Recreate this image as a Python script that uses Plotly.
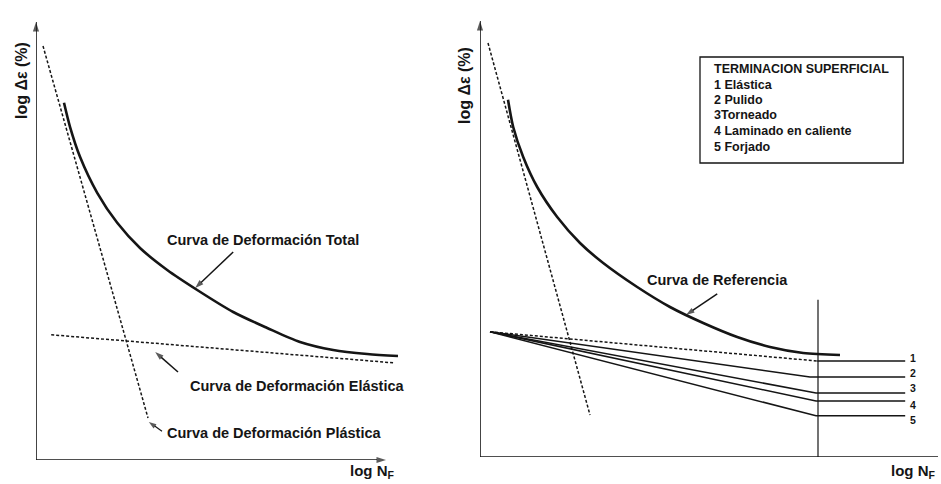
import plotly.graph_objects as go

# ---------------- data (schematic units: log N_f, log delta-eps) ----------------
# Left panel
plastic_L_x = [0.175, 2.8]
plastic_L_y = [10.35, 1.05]
total_L_x = [0.70, 0.85, 1.10, 1.53, 2.03, 2.60, 3.28, 4.03, 4.93, 5.78, 6.60, 7.43, 8.28, 9.05]
total_L_y = [8.93, 8.33, 7.58, 6.68, 5.93, 5.30, 4.75, 4.25, 3.70, 3.30, 2.95, 2.75, 2.65, 2.60]
elastic_L_x = [0.38, 8.93]
elastic_L_y = [3.13, 2.43]

# Right panel
plastic_R_x = [0.2, 2.75]
plastic_R_y = [10.35, 1.05]
ref_R_x = [0.70, 0.83, 1.08, 1.43, 1.93, 2.50, 3.08, 3.93, 4.75, 5.58, 6.43, 7.25, 8.08, 9.0]
ref_R_y = [8.93, 8.25, 7.50, 6.75, 6.00, 5.35, 4.85, 4.25, 3.75, 3.35, 3.00, 2.75, 2.60, 2.55]
start_x, start_y = 0.25, 3.13
knee_x = [8.43, 8.25, 8.4, 8.4, 8.4]
end_x = 10.63
finish_y = [2.40, 2.00, 1.60, 1.40, 1.03]
finish_labels = ["1", "2", "3", "4", "5"]
label_y = [2.48, 2.10, 1.73, 1.30, 0.93]
vline_x = 8.45
vline_top = 3.93

legend_title = "TERMINACION SUPERFICIAL"
legend_items = ["1 Elástica", "2 Pulido", "3Torneado", "4 Laminado en caliente", "5 Forjado"]

INK = "#151515"
FONT = "Liberation Sans, Arial, sans-serif"

fig = go.Figure()
L = ("x", "y")
R = ("x2", "y2")


def line(x, y, ax, width=1.5, dash="solid", smooth=False):
    fig.add_trace(go.Scatter(
        x=x, y=y, mode="lines", xaxis=ax[0], yaxis=ax[1],
        line=dict(color=INK, width=width, dash=dash,
                  shape="spline" if smooth else "linear", smoothing=0.8),
        hoverinfo="skip", showlegend=False, cliponaxis=False))


def arrow(x0, y0, x1, y1, ax, width=1.5, head=9):
    fig.add_trace(go.Scatter(
        x=[x0, x1], y=[y0, y1], mode="lines+markers", xaxis=ax[0], yaxis=ax[1],
        line=dict(color=INK, width=width),
        marker=dict(symbol="arrow", size=[0, head], angleref="previous", color=INK,
                    line=dict(width=0)),
        hoverinfo="skip", showlegend=False, cliponaxis=False))


# axes with arrow heads
arrow(0, 0, 0, 10.95, L, 1.6, 10)
arrow(0, 0, 8.75, 0, L, 1.6, 10)
arrow(0, 0, 0, 10.9, R, 1.6, 10)
line([0, 11.45], [0, 0], R, 1.6)

# left panel curves
line(plastic_L_x, plastic_L_y, L, 1.5, "3px,2px")
line(elastic_L_x, elastic_L_y, L, 1.5, "3px,2px")
line(total_L_x, total_L_y, L, 2.6, smooth=True)

# right panel curves
line(plastic_R_x, plastic_R_y, R, 1.5, "3px,2px")
line(ref_R_x, ref_R_y, R, 2.6, smooth=True)
line([start_x, knee_x[0]], [start_y, finish_y[0]], R, 1.5, "3px,2px")
line([knee_x[0], end_x], [finish_y[0], finish_y[0]], R, 1.6)
for i in range(1, 5):
    line([start_x, knee_x[i], end_x], [start_y, finish_y[i], finish_y[i]], R, 1.5)
line([vline_x, vline_x], [0, vline_top], R, 1.2)

# legend box
fig.add_shape(type="rect", xref="x2", yref="y2", x0=5.5, x1=10.58, y0=7.35, y1=10.0,
              line=dict(color=INK, width=1.3), fillcolor="white", layer="below")

ann = []


def text(t, x, y, xr, yr, size=14.5, anchor="center", bold=True):
    ann.append(dict(text=f"<b>{t}</b>" if bold else t, x=x, y=y, xref=xr, yref=yr, showarrow=False,
                    xanchor=anchor, yanchor="middle", font=dict(family=FONT, size=size, color=INK)))


# left annotations
text("Curva de Deformación Total", 5.68, 5.5, "x", "y")
arrow(4.93, 5.2, 3.98, 4.3, L)
text("Curva de Deformación Elástica", 6.53, 1.85, "x", "y")
arrow(3.55, 2.2, 2.98, 2.7, L)
text("Curva de Deformación Plástica", 3.22, 0.68, "x", "y", anchor="left")
arrow(3.15, 0.72, 2.82, 0.95, L, 1.2, 8)

# right annotations
text("Curva de Referencia", 5.93, 4.43, "x2", "y2")
arrow(5.93, 4.08, 5.15, 3.55, R)
for lab, yy in zip(finish_labels, label_y):
    text(lab, 10.83, yy, "x2", "y2", size=10.5)

legend_y = [9.3, 8.93, 8.55, 8.15, 7.75]
text(legend_title, 5.8, 9.7, "x2", "y2", size=12.5, anchor="left")
for t, yy in zip(legend_items, legend_y):
    text(t, 5.8, yy, "x2", "y2", size=12.5, anchor="left")

# axis titles (paper pixel positions converted below)
def title(t, x, y, size, angle=0):
    ann.append(dict(text=t, x=x, y=y, xref="paper", yref="paper", showarrow=False,
                    xanchor="center", yanchor="middle", textangle=angle,
                    font=dict(family=FONT, size=size, color=INK)))


title("<b>log Δε (%)</b>", 21, 81, 16, -90)
title("<b>log Δε (%)</b>", 465, 86, 16, -90)
title("<b>log N<sub>F</sub></b>", 372, 471, 15)
title("<b>log N<sub>F</sub></b>", 913, 471, 15)

W, H = 941, 484
for a in ann:
    if a.get("xref") == "paper":
        a["x"] = a["x"] / W
        a["y"] = 1 - a["y"] / H

ax_common = dict(showgrid=False, zeroline=False, showticklabels=False, ticks="", showline=False,
                 fixedrange=True)
fig.update_layout(
    width=W, height=H, margin=dict(l=0, r=0, t=0, b=0),
    paper_bgcolor="white", plot_bgcolor="rgba(0,0,0,0)",
    xaxis=dict(domain=[36 / W, 416 / W], range=[0, 9.5], **ax_common),
    yaxis=dict(domain=[24 / H, 1], range=[0, 11.5], **ax_common),
    xaxis2=dict(domain=[480 / W, 940 / W], range=[0, 11.5], anchor="y2", **ax_common),
    yaxis2=dict(domain=[27 / H, 1], range=[0, 11.425], anchor="x2", **ax_common),
    annotations=ann, showlegend=False,
)

fig.write_html("out.html", config={"displayModeBar": False},
               post_script="document.body.style.margin='0';")
